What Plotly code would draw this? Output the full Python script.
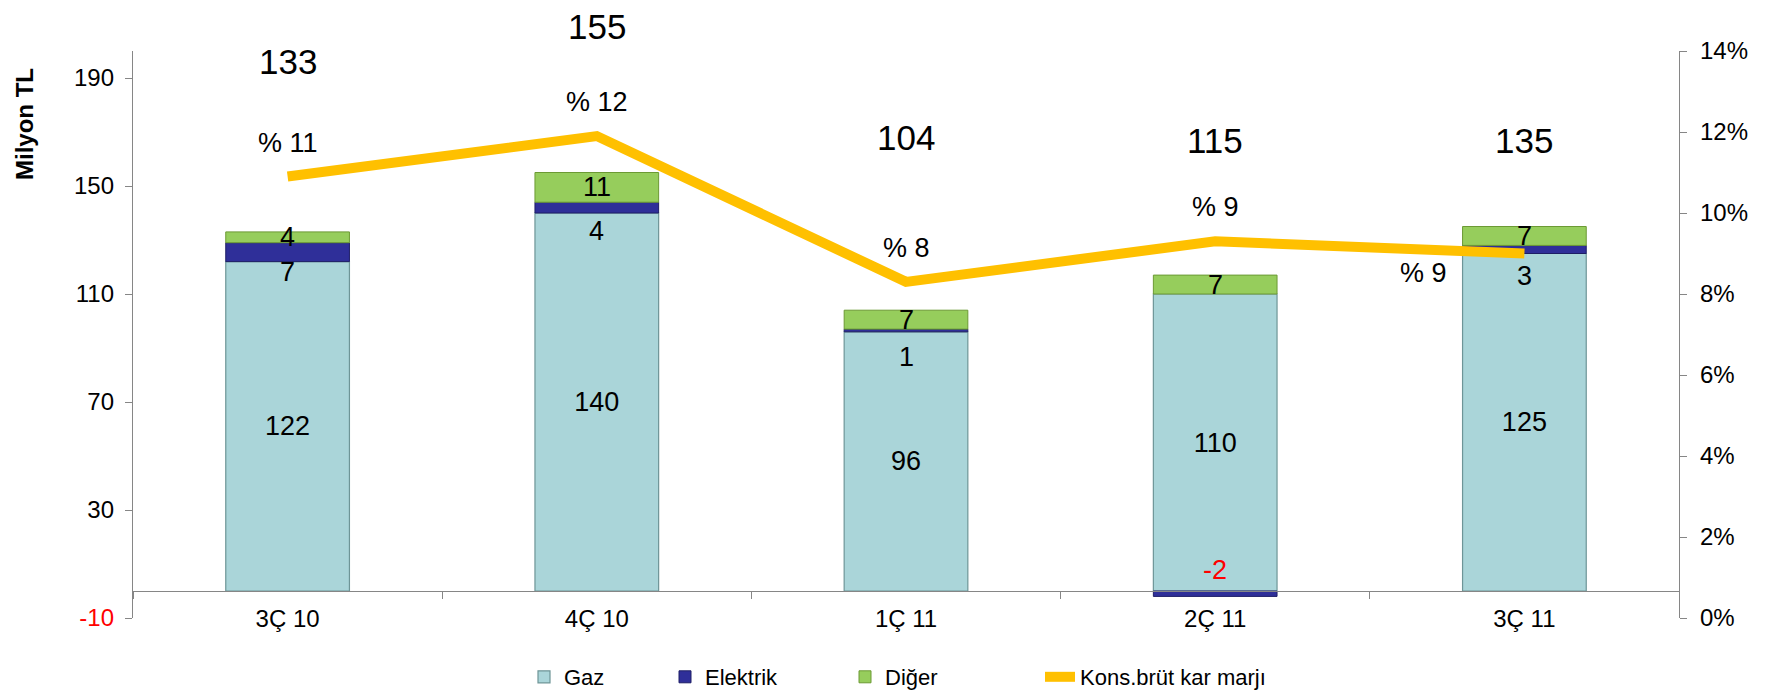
import plotly.graph_objects as go

categories = ["3Ç 10", "4Ç 10", "1Ç 11", "2Ç 11", "3Ç 11"]
gaz = [122, 140, 96, 110, 125]
elektrik = [7, 4, 1, -2, 3]
diger = [4, 11, 7, 7, 7]
totals = [133, 155, 104, 115, 135]
margin_pct = [10.9, 11.9, 8.3, 9.3, 9.0]
margin_labels = ["% 11", "% 12", "% 8", "% 9", "% 9"]
left_ticks = [-10, 30, 70, 110, 150, 190]
right_ticks = [0, 2, 4, 6, 8, 10, 12, 14]

# label placement (layout only)
total_label_y = [196, 209, 168, 167, 167]
elek_label_shift = [-10, -18, -25, 21, -22]
legend_text_x = [564, 705, 885, 1080]   # page px where each legend text starts

FONT = "Liberation Sans, Arial, sans-serif"
GRAY = "#868686"
Y_MIN, Y_MAX = -10, 200

# page body has an 8px margin, so the figure is 16px smaller than the window
FIG_W, FIG_H = 1761, 686
PLOT_L, PLOT_T, PLOT_R, PLOT_B = 125, 43, 1671, 610
plot_w = PLOT_R - PLOT_L
plot_h = PLOT_B - PLOT_T

fig = go.Figure()
fig.add_trace(go.Bar(
    x=categories, y=gaz, name="Gaz", legend="legend",
    marker=dict(color="#AAD5D9", line=dict(color="#6E9597", width=1.2)),
    text=[str(v) for v in gaz], textposition="inside", insidetextanchor="middle",
    textfont=dict(size=27, color="black", family=FONT), width=0.4,
    hoverinfo="skip",
))
fig.add_trace(go.Bar(
    x=categories, y=elektrik, name="Elektrik", legend="legend2",
    marker=dict(color="#2F2F99", line=dict(color="#1E1E66", width=1)),
    width=0.4, hoverinfo="skip",
))
fig.add_trace(go.Bar(
    x=categories, y=diger, name="Diğer", legend="legend3",
    marker=dict(color="#96CD5C", line=dict(color="#6C9A34", width=1)),
    width=0.4, hoverinfo="skip",
))
fig.add_trace(go.Scatter(
    x=categories, y=margin_pct, name="Kons.brüt kar marjı", yaxis="y2", legend="legend4",
    mode="lines", line=dict(color="#FFC000", width=10), hoverinfo="skip",
))

ann = []
for i, c in enumerate(categories):
    ann.append(dict(x=c, y=(total_label_y[i] - Y_MIN) / (Y_MAX - Y_MIN), xref="x", yref="paper",
                    text=str(totals[i]), showarrow=False, yanchor="middle",
                    font=dict(size=35, color="black", family=FONT)))
    pos_base = gaz[i] + max(elektrik[i], 0)
    ann.append(dict(x=c, y=pos_base + diger[i] / 2, xref="x", yref="y", text=str(diger[i]),
                    showarrow=False, yanchor="middle", font=dict(size=27, color="black", family=FONT)))
    neg = elektrik[i] < 0
    ann.append(dict(x=c, y=0 if neg else gaz[i], xref="x", yref="y", text=str(elektrik[i]),
                    showarrow=False, yanchor="middle", yshift=elek_label_shift[i],
                    font=dict(size=27, color="red" if neg else "black", family=FONT)))
    last = i == len(categories) - 1
    ann.append(dict(x=c, y=margin_pct[i], xref="x", yref="y2", text=margin_labels[i],
                    showarrow=False, yanchor="middle",
                    xshift=-101 if last else 0, yshift=-19 if last else 34,
                    font=dict(size=27, color="black", family=FONT)))

ann.append(dict(x=(24 - 133) / plot_w, y=(618 - 124) / plot_h, xref="paper", yref="paper",
                text="<b>Milyon TL</b>", showarrow=False, textangle=-90,
                xanchor="center", yanchor="middle",
                font=dict(size=24, color="black", family=FONT)))

left_text = [('<span style="color:red">%d</span>' % v) if v < 0 else str(v) for v in left_ticks]
right_text = ["%d%%" % v for v in right_ticks]


def legend_box(text_x):
    return dict(orientation="h", x=(text_x - 40 - 133) / plot_w, xanchor="left",
                y=-(677 - 618) / plot_h, yanchor="middle", bgcolor="rgba(0,0,0,0)",
                font=dict(family=FONT, size=22, color="black"), itemwidth=30)


fig.update_layout(
    width=FIG_W, height=FIG_H,
    margin=dict(l=PLOT_L, r=FIG_W - PLOT_R, t=PLOT_T, b=FIG_H - PLOT_B, autoexpand=False, pad=0),
    paper_bgcolor="white", plot_bgcolor="white",
    barmode="relative",
    font=dict(family=FONT, size=24, color="black"),
    showlegend=True,
    legend=legend_box(legend_text_x[0]),
    legend2=legend_box(legend_text_x[1]),
    legend3=legend_box(legend_text_x[2]),
    legend4=legend_box(legend_text_x[3]),
    xaxis=dict(type="category", anchor="free", position=10 / 210,
               showline=True, linecolor=GRAY, linewidth=1.3,
               ticks="outside", tickson="boundaries", ticklen=7, tickcolor=GRAY,
               ticklabelstandoff=6,
               showgrid=False, zeroline=False, tickfont=dict(size=24, family=FONT),
               range=[-0.5, 4.5]),
    yaxis=dict(range=[Y_MIN, Y_MAX], tickvals=left_ticks, ticktext=left_text,
               showline=True, linecolor=GRAY, linewidth=1.3, ticks="outside",
               ticklen=7, tickcolor=GRAY, showgrid=False, zeroline=False,
               ticklabelstandoff=6, tickfont=dict(size=24, family=FONT)),
    yaxis2=dict(range=[0, 14], tickvals=right_ticks, ticktext=right_text, overlaying="y",
                side="right", anchor="x", showline=True, linecolor=GRAY, linewidth=1.3,
                ticks="outside", ticklen=7, tickcolor=GRAY, showgrid=False, zeroline=False,
                ticklabelstandoff=8, tickfont=dict(size=24, family=FONT)),
    annotations=ann,
)

fig.write_html("out.html")
